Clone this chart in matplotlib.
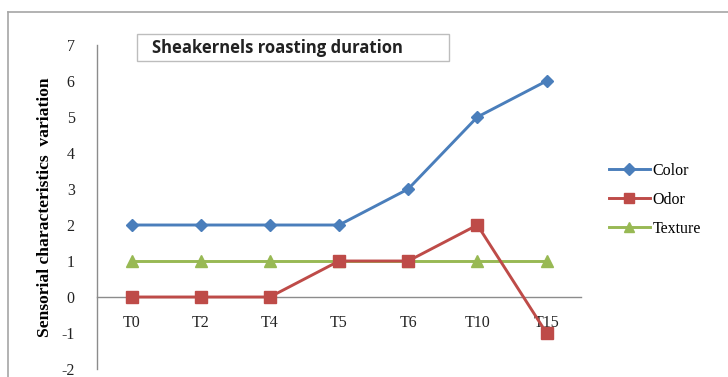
import matplotlib

matplotlib.use("Agg")
import matplotlib.pyplot as plt
import numpy as np
from matplotlib.lines import Line2D
from matplotlib.patches import Rectangle

# Roasting durations and sensory scores per attribute
durations = ["T0", "T2", "T4", "T5", "T6", "T10", "T15"]
color_scores = [2, 2, 2, 2, 3, 5, 6]
odor_scores = [0, 0, 0, 1, 1, 2, -1]
texture_scores = [1, 1, 1, 1, 1, 1, 1]

BLUE = "#4a7ebb"
RED = "#be4b48"
GREEN = "#98b954"
SERIF = ["Liberation Serif", "DejaVu Serif"]

plt.rcParams["axes.unicode_minus"] = False

fig = plt.figure(figsize=(7.28, 3.77), dpi=100)
ax = fig.add_axes([0.1332, 0.0212, 0.665, 0.8594])

x = np.arange(len(durations))

ax.plot(x, color_scores, color=BLUE, linewidth=2.1, marker="D",
        markersize=6.5, zorder=4, solid_joinstyle="round")
ax.plot(x, odor_scores, color=RED, linewidth=2.1, marker="s",
        markersize=8, zorder=3)
ax.plot(x, texture_scores, color=GREEN, linewidth=2.1, marker="^",
        markersize=8, zorder=2)

ax.set_xlim(-0.5, len(durations) - 0.5)
ax.set_ylim(-2, 7)
ax.set_yticks(range(-2, 8))
ax.set_xticks(x)
ax.set_xticklabels(durations)

for side in ("top", "right"):
    ax.spines[side].set_visible(False)
ax.spines["bottom"].set_position(("data", 0))
for side in ("left", "bottom"):
    ax.spines[side].set_color("#8c8c8c")
    ax.spines[side].set_linewidth(1.0)

ax.tick_params(axis="x", length=0, pad=13, labelsize=11.5)
ax.tick_params(axis="y", length=0, pad=16, labelsize=11.5)
for lbl in ax.get_xticklabels() + ax.get_yticklabels():
    lbl.set_family(SERIF)
    lbl.set_color("#222222")

ax.set_ylabel("Sensorial characteristics  variation", family=SERIF,
              fontweight="bold", fontsize=12.6)
ax.yaxis.set_label_coords(-0.09, 0.5)

# Boxed chart title
fig.patches.append(Rectangle((0.1882, 0.838), 0.4286, 0.072,
                             transform=fig.transFigure, facecolor="white",
                             edgecolor="#bdbdbd", linewidth=1.0))
fig.text(0.2085, 0.874, "Sheakernels roasting duration", ha="left",
         va="center", fontsize=12, fontweight="bold",
         family=["Open Sans", "DejaVu Sans"], color="#222222")

handles = [
    Line2D([0], [0], color=BLUE, lw=2.1, marker="D", markersize=6),
    Line2D([0], [0], color=RED, lw=2.1, marker="s", markersize=7),
    Line2D([0], [0], color=GREEN, lw=2.1, marker="^", markersize=7),
]
fig.legend(handles, ["Color", "Odor", "Texture"], loc="center left",
           bbox_to_anchor=(0.825, 0.47), frameon=False,
           prop={"family": SERIF, "size": 11.5}, handlelength=2.6,
           handletextpad=0.15, labelspacing=0.8, borderpad=0)

# Outer chart-area border (top and left edges only in view)
fig.add_artist(Line2D([0.011, 1.0], [0.968, 0.968], transform=fig.transFigure,
                      color="#a6a6a6", linewidth=1.2))
fig.add_artist(Line2D([0.011, 0.011], [0.0, 0.968], transform=fig.transFigure,
                      color="#a6a6a6", linewidth=1.2))

fig.savefig("out.png", dpi=100, facecolor="white")
